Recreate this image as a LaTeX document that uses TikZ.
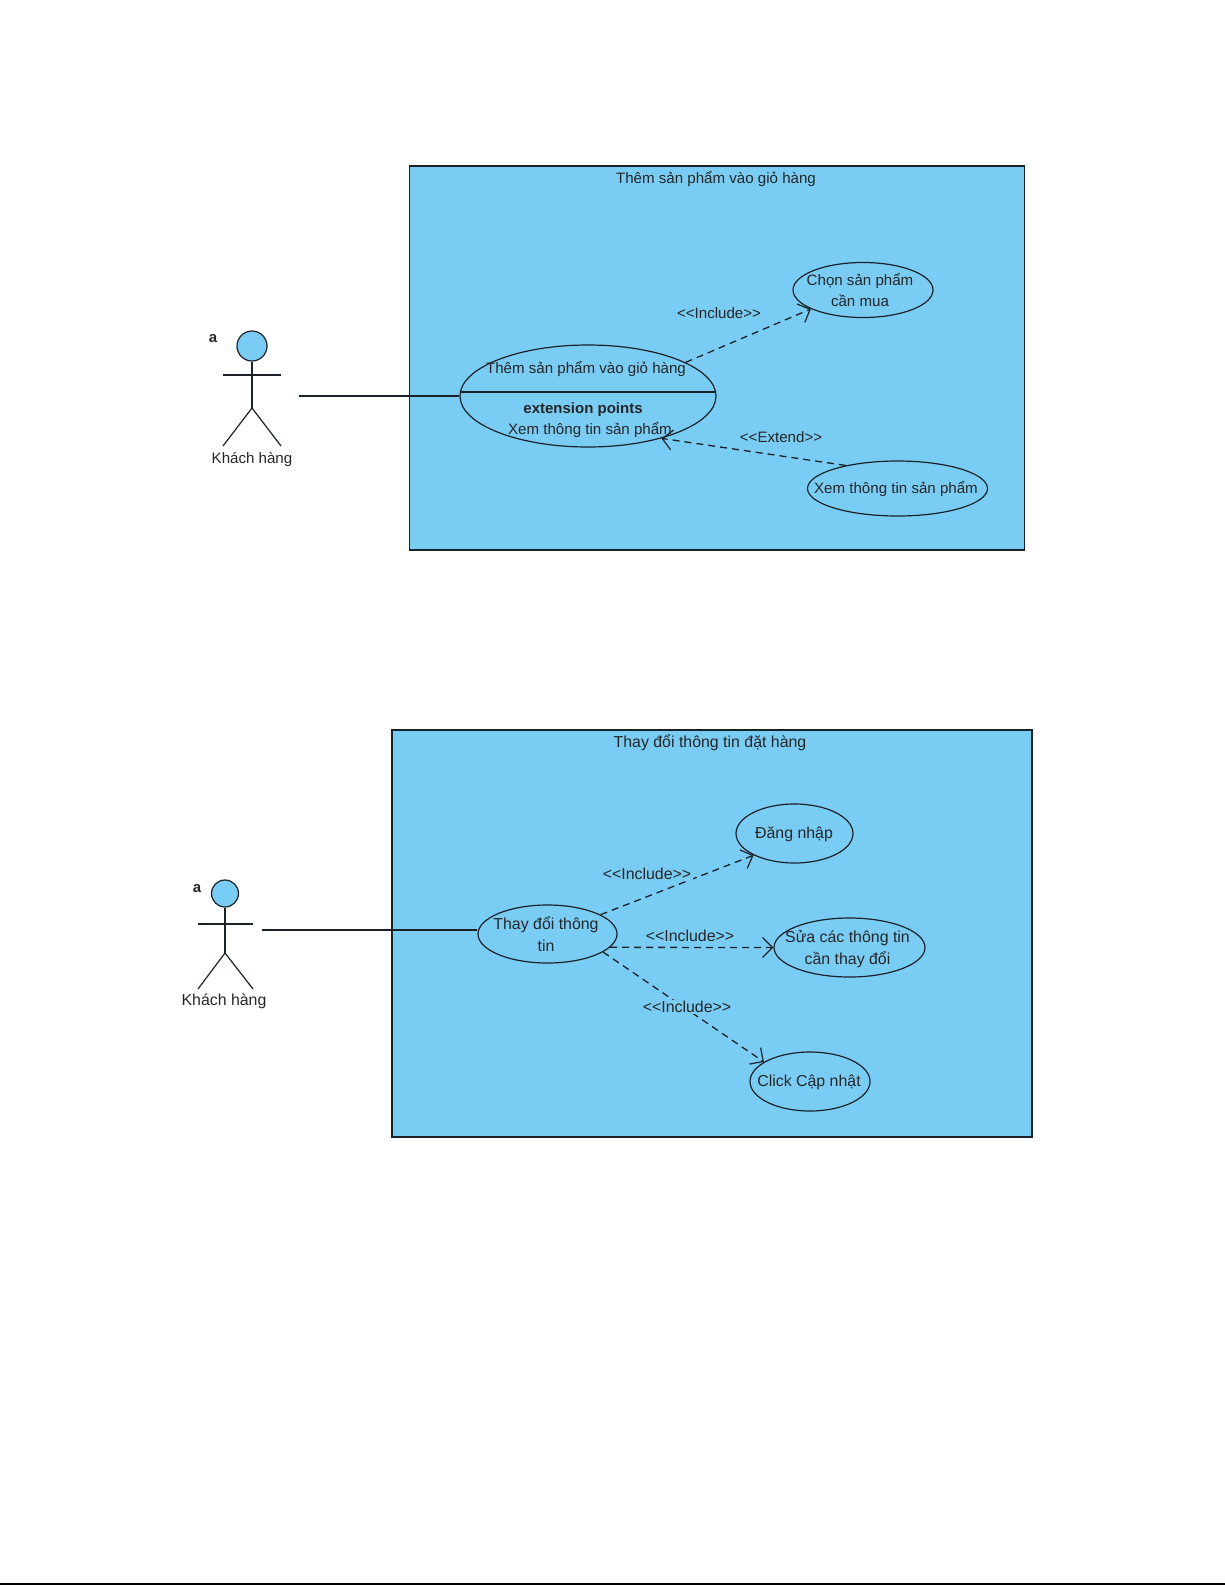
\documentclass[tikz,border=0pt]{standalone}
\usepackage{fontspec}
\setmainfont{Liberation Sans}
\usetikzlibrary{shapes.geometric,arrows.meta}
\definecolor{ucblue}{HTML}{79CDF4}
\definecolor{ucline}{HTML}{1A2228}
\tikzset{
  sysbox/.style={draw=ucline,fill=ucblue,line width=1.2pt},
  uc/.style={draw=ucline,ellipse,fill=ucblue,line width=1.2pt,inner sep=0pt},
  txt/.style={inner sep=0pt,align=center,text=black!85,font=\fontsize{15.1}{21}\selectfont},
  txtb/.style={inner sep=0pt,align=center,text=black!85,font=\fontsize{15.9}{22}\selectfont},
  lblb/.style={txtb,fill=ucblue,inner xsep=2pt,inner ysep=1pt},
  boldtxt/.style={inner sep=0pt,text=black!85,font=\fontsize{15}{20}\selectfont\bfseries},
  actorhead/.style={draw=ucline,circle,fill=ucblue,line width=1.2pt,inner sep=0pt},
  limb/.style={draw=ucline,line width=1.2pt},
  assoc/.style={draw=ucline,line width=1.2pt},
  dep/.style={draw=ucline,line width=1.3pt,dash pattern=on 7pt off 5pt,-{Straight Barb[length=10pt,width=20pt,line width=1.2pt]}},
}
\begin{document}
\begin{tikzpicture}[x=1pt,y=-1pt]
\useasboundingbox (0,0) rectangle (1225,1585);
% ---- top diagram
\node[sysbox,minimum width=615pt,minimum height=384pt,inner sep=0pt] (sysA) at (717,358) {};
\node[txt] (titleA) at (716,179) {Thêm sản phẩm vào giỏ hàng};
\node[uc,minimum width=140pt,minimum height=55pt] (chon) at (863,290) {};
\node[txt] (chonT) at (860,290) {Chọn sản phẩm\\cần mua};
\node[uc,minimum width=256pt,minimum height=102pt] (main) at (588,396) {};
\node[uc,minimum width=180pt,minimum height=55pt] (xem) at (897.5,488.5) {};
\node[txt] (xemT) at (896,489) {Xem thông tin sản phẩm};
\coordinate (divL) at (460,392);
\coordinate (divR) at (716,392);
\draw[limb] (divL) -- (divR);
\node[txt] (mainname) at (586,368.5) {Thêm sản phẩm vào giỏ hàng};
\node[boldtxt] (extp) at (583,410) {extension points};
\node[txt] (extname) at (590,430) {Xem thông tin sản phẩm};
\draw[dep] (main.19.6) -- (chon.200);
\draw[dep] (xem.156.3) -- (main.-30.3);
\node[txt] (incA) at (719,313) {<{}<Include>{}>};
\node[txt] (extA) at (781,437) {<{}<Extend>{}>};
% actor A
\node[actorhead,minimum size=30pt] (headA) at (252,346) {};
\coordinate (hipA) at (252,408);
\coordinate (armLA) at (223,375);
\coordinate (armRA) at (281,375);
\coordinate (legLA) at (223,446);
\coordinate (legRA) at (281,446);
\draw[limb] (headA.south) -- (hipA);
\draw[limb] (armLA) -- (armRA);
\draw[limb] (legLA) -- (hipA) -- (legRA);
\node[txt] (nameA) at (252,459) {Khách hàng};
\node[boldtxt] (aA) at (213,339) {a};
\coordinate (startA) at (299,396);
\draw[assoc] (startA) -- (main.west);
% ---- bottom diagram
\node[sysbox,minimum width=640pt,minimum height=407pt,inner sep=0pt] (sysB) at (712,933.5) {};
\node[txtb] (titleB) at (710,743) {Thay đổi thông tin đặt hàng};
\node[uc,minimum width=117pt,minimum height=59pt] (dang) at (794.5,833.5) {};
\node[txtb] (dangT) at (794,834) {Đăng nhập};
\node[uc,minimum width=139pt,minimum height=58pt] (thay) at (547.5,934) {};
\node[txtb] (thayT) at (546,934) {Thay đổi thông\\tin};
\node[uc,minimum width=151pt,minimum height=59pt] (sua) at (849.5,947.5) {};
\node[txtb] (suaT) at (847.5,949.5) {Sửa các thông tin\\cần thay đổi};
\node[uc,minimum width=120pt,minimum height=59pt] (click) at (810,1081.5) {};
\node[txtb] (clickT) at (809,1082) {Click Cập nhật};
\draw[dep] (thay.20) -- (dang.208.6);
\draw[dep] (thay.-12) -- (sua.west);
\draw[dep] (thay.-18.9) -- (click.157.7);
\node[lblb] (incB1) at (647,874) {<{}<Include>{}>};
\node[txtb] (incB2) at (690,936) {<{}<Include>{}>};
\node[lblb] (incB3) at (687,1007) {<{}<Include>{}>};
% actor B
\node[actorhead,minimum size=27pt] (headB) at (225,893.5) {};
\coordinate (hipB) at (225,953);
\coordinate (armLB) at (198,924);
\coordinate (armRB) at (253,924);
\coordinate (legLB) at (198,989);
\coordinate (legRB) at (253,989);
\draw[limb] (headB.south) -- (hipB);
\draw[limb] (armLB) -- (armRB);
\draw[limb] (legLB) -- (hipB) -- (legRB);
\node[txtb] (nameB) at (224,1001) {Khách hàng};
\node[boldtxt] (aB) at (197,889) {a};
\coordinate (startB) at (262,930);
\draw[assoc] (startB) -- (startB -| thay.west);
% page edge
\coordinate (edgeL) at (0,1584);
\coordinate (edgeR) at (1225,1584);
\draw[black,line width=1.5pt] (edgeL) -- (edgeR);
\end{tikzpicture}
\end{document}
